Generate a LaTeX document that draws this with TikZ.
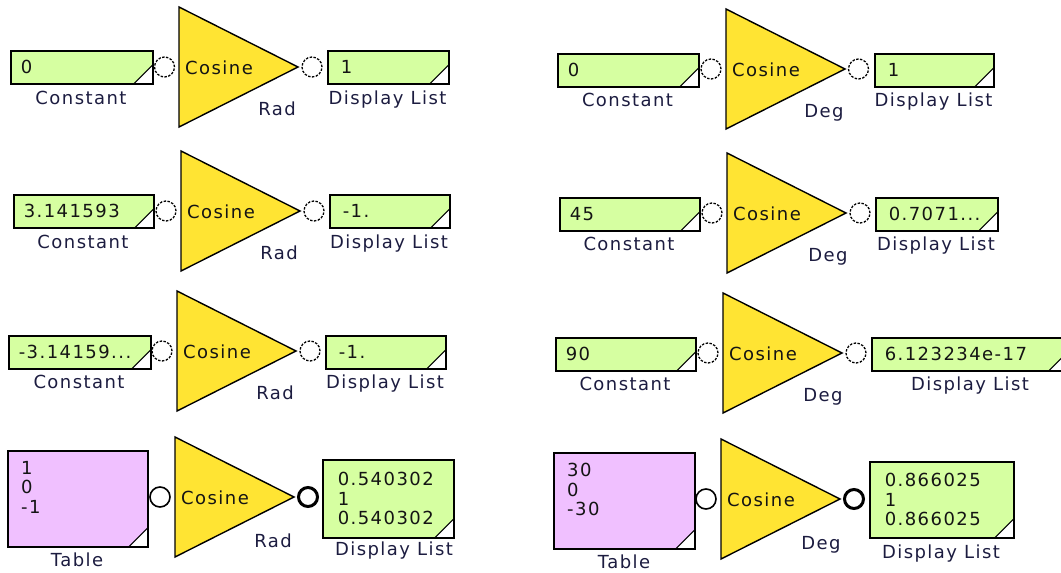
\documentclass[tikz,border=0pt]{standalone}
\usepackage{fontspec}
\setmainfont{DejaVu Sans}[LetterSpace=8]
\definecolor{valgreen}{HTML}{D6FFA1}
\definecolor{tabpink}{HTML}{F0C0FF}
\definecolor{gateyellow}{HTML}{FFE433}
\definecolor{boxink}{HTML}{141414}
\definecolor{labelink}{HTML}{1C1C40}
\tikzset{
corner/.style={
path picture={
\fill[white] ([xshift=-19pt]path picture bounding box.south east)
-- (path picture bounding box.south east)
-- ([yshift=19pt]path picture bounding box.south east) -- cycle;
\draw[line width=1pt] ([xshift=-19pt]path picture bounding box.south east)
-- ([yshift=19pt]path picture bounding box.south east);
}
}
}
\begin{document}
\begin{tikzpicture}[
x=1pt, y=-1pt,
every node/.style={
font=\fontsize{18}{19.5}\selectfont,
inner sep=0pt
},
constbox/.style={
draw,
line width=1.6pt,
fill=valgreen,
corner,
anchor=north west,
minimum height=33pt,
inner xsep=10pt,
align=left,
text=boxink,
text width=#1
},
dispbox/.style={
constbox=#1,
inner xsep=13pt
},
listbox/.style={
constbox=#1,
inner xsep=15pt
},
tablebox/.style={
draw,
line width=1.6pt,
fill=tabpink,
corner,
anchor=north west,
minimum width=#1,
minimum height=96pt
},
gate/.style={
draw,
line width=1.4pt,
fill=gateyellow
},
port/.style={
circle,
draw=black,
fill=white,
line width=1.3pt,
dash pattern=on 2.4pt off 1.5pt,
minimum size=20pt
},
portin/.style={
port,
solid,
line width=1.6pt
},
portout/.style={
port,
solid,
line width=3pt,
minimum size=19pt
},
lbl/.style={
anchor=base,
text=labelink
}
]

\clip (0,0) rectangle (1061,573);

\node[constbox=122pt] (C1) at (10,50)
{0};
\node[lbl] at (81,104)
{Constant};
\draw[gate] (179,7) -- (298,67) -- (179,127) -- cycle;
\node[anchor=west, text=boxink] (G1) at (185,68)
{Cosine};
\node[lbl] at (277,115)
{Rad};
\node[port] (I1) at (164.5,67) {};
\node[port] (O1) at (312,67) {};
\node[dispbox=95pt] (D1) at (327,50)
{1};
\node[lbl] at (387.5,104)
{Display List};

\node[constbox=120pt] (C2) at (13,194)
{3.141593};
\node[lbl] at (83,248)
{Constant};
\draw[gate] (181,151) -- (300,211) -- (181,271) -- cycle;
\node[anchor=west, text=boxink] (G2) at (187,212)
{Cosine};
\node[lbl] at (279,259)
{Rad};
\node[port] (I2) at (166,211) {};
\node[port] (O2) at (314,211) {};
\node[dispbox=94pt] (D2) at (329,194)
{-1.};
\node[lbl] at (389,248)
{Display List};

\node[constbox=122pt] (C3) at (8,335)
{-3.14159...};
\node[lbl] at (79,388)
{Constant};
\draw[gate] (177,291) -- (296,351) -- (177,411) -- cycle;
\node[anchor=west, text=boxink] (G3) at (183,352)
{Cosine};
\node[lbl] at (275,399)
{Rad};
\node[port] (I3) at (162,351) {};
\node[port] (O3) at (310,351) {};
\node[dispbox=94pt] (D3) at (325,335)
{-1.};
\node[lbl] at (385,388)
{Display List};

\node[tablebox=140pt] (T4) at (7,450) {};
\node[anchor=north west, align=left, text=boxink] (T4v) at (21,461)
{1\\0\\-1};
\node[lbl] at (77,566)
{Table};
\draw[gate] (175,437) -- (294,497) -- (175,557) -- cycle;
\node[anchor=west, text=boxink] (G4) at (181,498)
{Cosine};
\node[lbl] at (273,547)
{Rad};
\node[portin] (I4) at (160,497) {};
\node[portout] (O4) at (308,497) {};
\node[listbox=101pt, minimum height=78pt] (D4) at (322,459)
{0.540302\\1\\0.540302};
\node[lbl] at (394,555)
{Display List};

\node[constbox=121pt] (C5) at (557,53)
{0};
\node[lbl] at (627.5,106)
{Constant};
\draw[gate] (726,9) -- (845,69) -- (726,129) -- cycle;
\node[anchor=west, text=boxink] (G5) at (732,70)
{Cosine};
\node[lbl] at (824,117)
{Deg};
\node[port] (I5) at (711,69) {};
\node[port] (O5) at (858.5,69) {};
\node[dispbox=93pt] (D5) at (874,53)
{1};
\node[lbl] at (933.5,106)
{Display List};

\node[constbox=120pt] (C6) at (559,197)
{45};
\node[lbl] at (629,250)
{Constant};
\draw[gate] (727,153) -- (846,213) -- (727,273) -- cycle;
\node[anchor=west, text=boxink] (G6) at (733,214)
{Cosine};
\node[lbl] at (828,261)
{Deg};
\node[port] (I6) at (712,213) {};
\node[port] (O6) at (860,213) {};
\node[dispbox=96pt] (D6) at (875,197)
{0.7071...};
\node[lbl] at (936,250)
{Display List};

\node[constbox=120pt] (C7) at (555,337)
{90};
\node[lbl] at (625,390)
{Constant};
\draw[gate] (723,293) -- (842,353) -- (723,413) -- cycle;
\node[anchor=west, text=boxink] (G7) at (729,354)
{Cosine};
\node[lbl] at (823,401)
{Deg};
\node[port] (I7) at (708,353) {};
\node[port] (O7) at (856,353) {};
\node[dispbox=170pt] (D7) at (871,337)
{6.123234e-17};
\node[lbl] at (970,390)
{Display List};

\node[tablebox=141pt] (T8) at (553,452) {};
\node[anchor=north west, align=left, text=boxink] (T8v) at (567,463)
{30\\0\\-30};
\node[lbl] at (624,568)
{Table};
\draw[gate] (721,439) -- (840,499) -- (721,559) -- cycle;
\node[anchor=west, text=boxink] (G8) at (727,500)
{Cosine};
\node[lbl] at (821,549)
{Deg};
\node[portin] (I8) at (706,499) {};
\node[portout] (O8) at (854,499) {};
\node[listbox=114pt, minimum height=76pt] (D8) at (869,461)
{0.866025\\1\\0.866025};
\node[lbl] at (941,558)
{Display List};

\end{tikzpicture}
\end{document}
